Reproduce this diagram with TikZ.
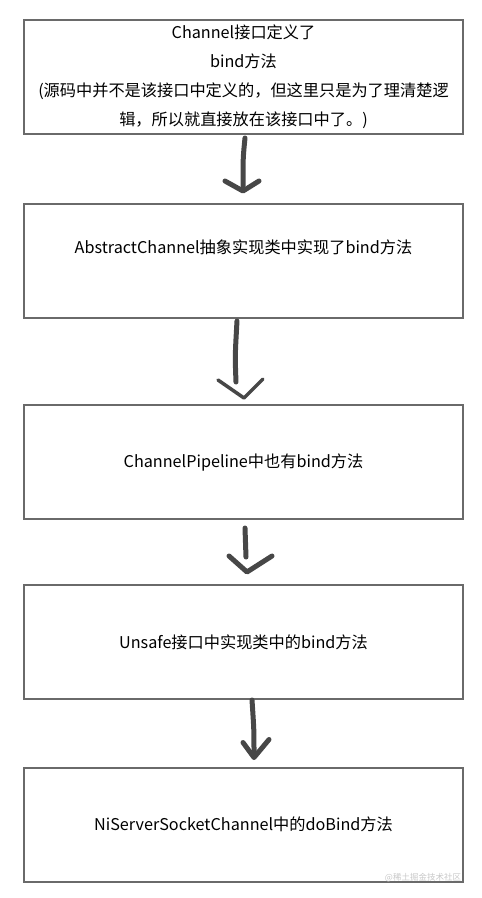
\documentclass[tikz,border=0pt]{standalone}
\usepackage{fontspec}
\setmainfont{Noto Sans CJK SC}
\usepackage{xcolor}
\usetikzlibrary{calc}
\definecolor{BoxLine}{HTML}{6A6A6A}
\definecolor{Pen}{HTML}{474747}
\definecolor{Mark}{HTML}{C8C8C8}

\begin{document}
\begin{tikzpicture}[x=1pt, y=-1pt,
  box/.style = {draw=BoxLine, line width=2pt, minimum width=439pt, minimum height=114pt, inner sep=0pt},
  pen/.style = {draw=Pen, line width=5pt, line cap=round, line join=round},
  penhead/.style = {draw=Pen, line width=3.5pt, line cap=round, line join=round}]
\fontsize{16.2}{29}\selectfont
\useasboundingbox (0,0) rectangle (482,898);

% Boxes
\node[box, align=center] (b1) at (243.5,77) {Channel接口定义了\\bind方法\\(源码中并不是该接口中定义的，但这里只是为了理清楚逻\\辑，所以就直接放在该接口中了。)};
\node[box] (b2) at (243.5,261) {};
\node[box] (b3) at (243.5,462) {ChannelPipeline中也有bind方法};
\node[box] (b4) at (243.5,642) {Unsafe接口中实现类中的bind方法};
\node[box] (b5) at (243.5,824.5) {NiServerSocketChannel中的doBind方法};

\node (t2) at ($(b2.north)+(0,44)$) {AbstractChannel抽象实现类中实现了bind方法};

% Arrow 1
\coordinate (a1s) at ($(b1.south)+(1.5,3)$);
\coordinate (a1t) at ($(b2.north)+(-0.5,-12)$);
\draw[pen] (a1s) .. controls ($(a1s)+(-2,20)$) .. ($(a1t)+(0,-5)$);
\draw[pen] ($(a1t)+(-18,-10)$) -- (a1t) -- ($(a1t)+(16,-10)$);

% Arrow 2
\coordinate (a2s) at ($(b2.south)+(-6.5,2)$);
\coordinate (a2t) at ($(b3.north)+(0.5,-6)$);
\draw[pen] (a2s) .. controls ($(a2s)+(-2,35)$) .. ($(a2t)+(-8,-16)$);
\draw[penhead] ($(a2t)+(-26,-18)$) -- (a2t) -- ($(a2t)+(19,-19)$);

% Arrow 3
\coordinate (a3s) at ($(b3.south)+(1.5,8)$);
\coordinate (a3t) at ($(b4.north)+(3.5,-12)$);
\draw[pen] (a3s) -- ($(a3t)+(-1,-15)$);
\draw[pen] ($(a3t)+(-18,-16)$) -- (a3t) -- ($(a3t)+(25,-16)$);

% Arrow 4
\coordinate (a4s) at ($(b4.south)+(8.5,0)$);
\coordinate (a4t) at ($(b5.north)+(10.5,-9)$);
\draw[pen] (a4s) .. controls ($(a4s)+(2,30)$) .. ($(a4t)+(0,-5)$);
\draw[pen] ($(a4t)+(-11,-15)$) -- (a4t) -- ($(a4t)+(15,-18)$);

% Watermark
\node[Mark, font=\fontsize{8.5}{10}\selectfont] (wm) at (423,878) {@稀土掘金技术社区};
\end{tikzpicture}
\end{document}
